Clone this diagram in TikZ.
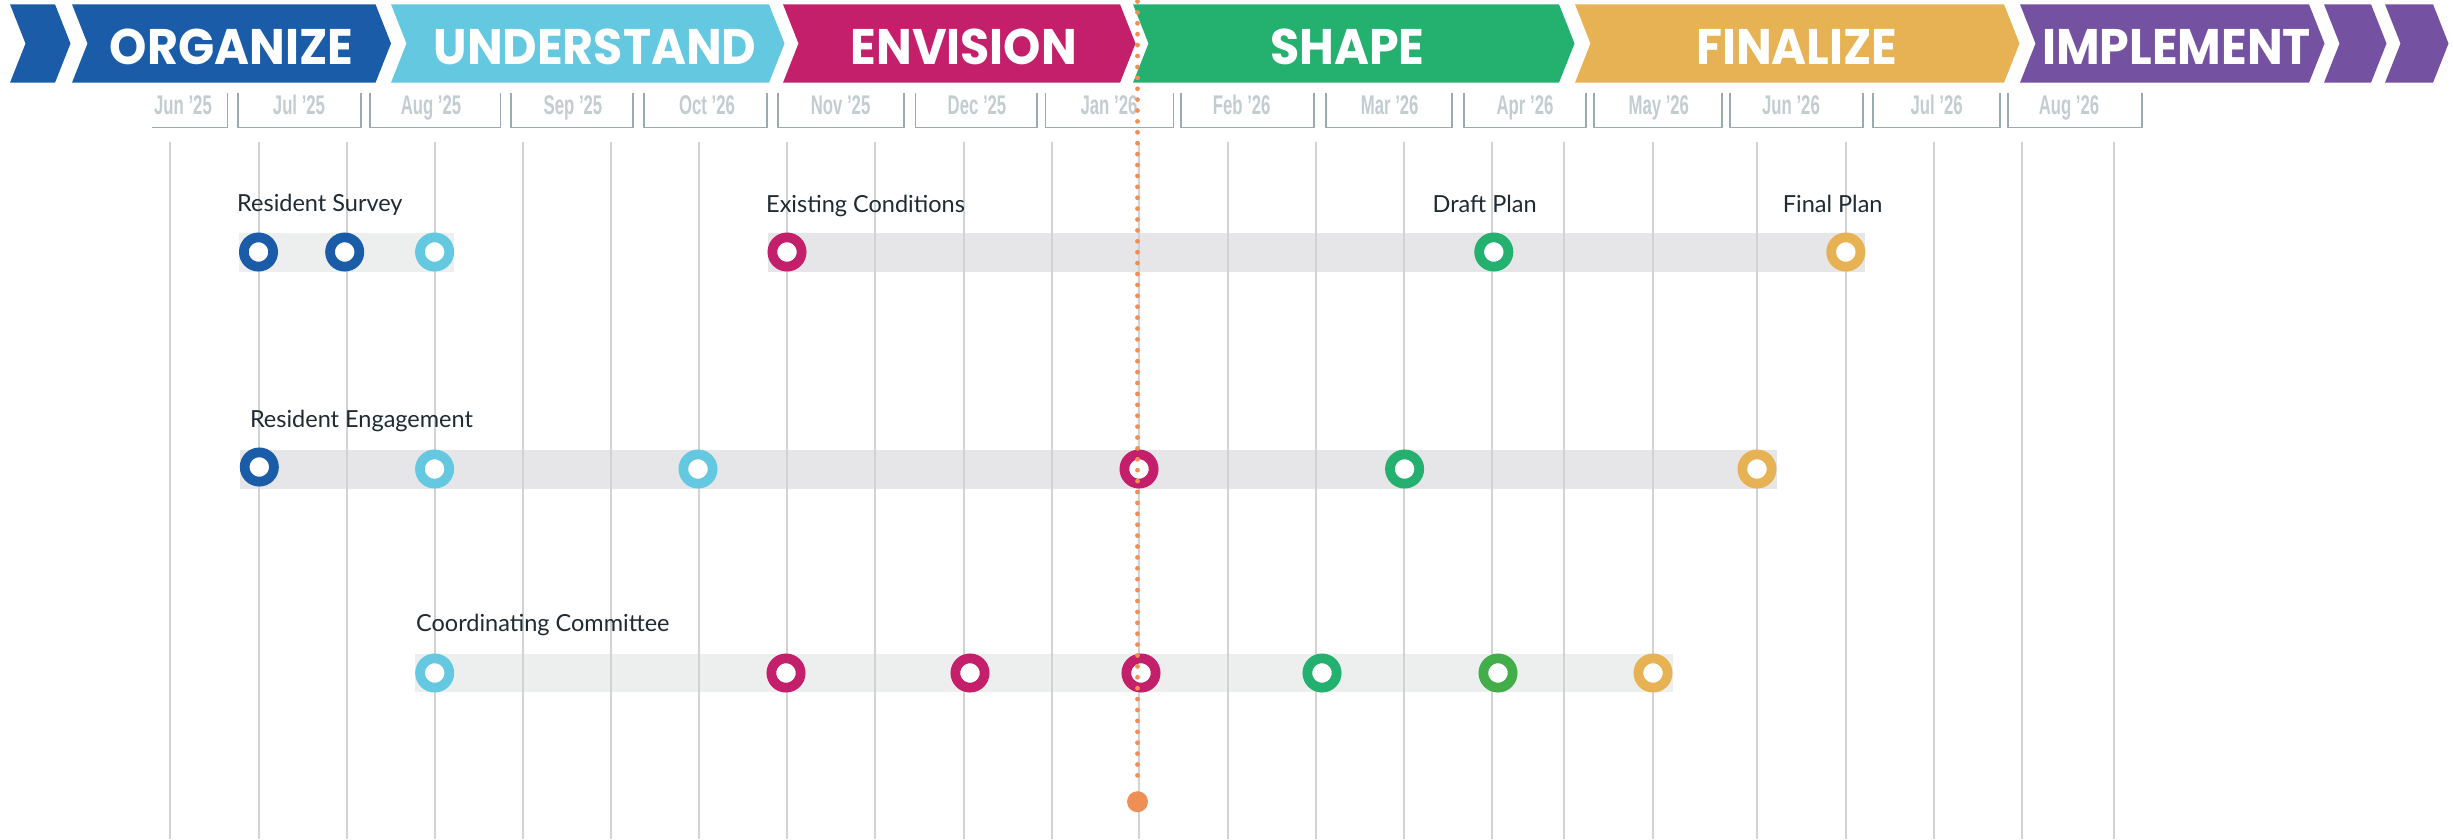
\documentclass[tikz,border=0pt]{standalone}
\usepackage{fontspec}
\setmainfont{Lato}
\newfontfamily\bannerfont{Poppins}[FakeStretch=0.95]
\newfontfamily\monthfont{Liberation Sans}[FakeStretch=0.62]
\usetikzlibrary{calc}
\definecolor{dblue}{HTML}{1A5CA8}
\definecolor{cyanc}{HTML}{64C8E0}
\definecolor{magc}{HTML}{C41F6B}
\definecolor{greenc}{HTML}{24B06E}
\definecolor{greenb}{HTML}{43AD4A}
\definecolor{yellowc}{HTML}{E7B254}
\definecolor{purplec}{HTML}{7552A1}
\definecolor{orangec}{HTML}{EF8F55}
\definecolor{barA}{HTML}{EDEFEE}
\definecolor{barB}{HTML}{E6E6E8}
\definecolor{gridc}{HTML}{D2D2D2}
\definecolor{labelc}{HTML}{1F2A32}
\definecolor{monthc}{HTML}{C3CDD0}
\definecolor{boxc}{HTML}{9AABB0}
\newcommand\bannerseg[3]{\fill[#1] (#2,4.3) -- (#3,4.3) -- (#3+15.5,43.5) -- (#3,82.7) -- (#2,82.7) -- (#2+15.5,43.5) -- cycle;}
\begin{document}
\begin{tikzpicture}[x=1pt,y=-1pt,
  ring/.style={circle, draw=#1, line width=9.75pt, fill=white, minimum size=29.25pt, inner sep=0pt, outer sep=4.875pt},
  bar/.style={draw=#1, line width=39pt},
  gridline/.style={draw=gridc, line width=1.6pt},
  boxline/.style={draw=boxc, line width=1.3pt},
  monthlabel/.style={anchor=base, text=monthc, font=\monthfont\bfseries\fontsize{27}{30}\selectfont, inner sep=0pt},
  bannerlabel/.style={anchor=base, text=white, font=\bannerfont\bfseries\fontsize{50}{56}\selectfont, inner sep=0pt},
  lbl/.style={anchor=base west, text=labelc, font=\fontsize{23.5}{27}\selectfont, inner sep=0pt},
  dotline/.style={draw=orangec, line width=4.8pt, line cap=round, dash pattern=on 0pt off 10.9pt},
  bigdot/.style={circle, fill=orangec, minimum size=21pt, inner sep=0pt}
]
\useasboundingbox (0,0) rectangle (2453,839);
\fill[white] (0,0) rectangle (2453,839);

% banner
\bannerseg{dblue}{10}{55}
\bannerseg{dblue}{72}{375.5}
\bannerseg{cyanc}{391}{769}
\bannerseg{magc}{783}{1120}
\bannerseg{greenc}{1133}{1559}
\bannerseg{yellowc}{1575}{2004}
\bannerseg{purplec}{2020}{2309}
\bannerseg{purplec}{2324}{2371}
\bannerseg{purplec}{2385}{2433}
\node[bannerlabel] (bOrg) at (231.4,64) {ORGANIZE};
\node[bannerlabel] (bUnd) at (595,64) {UNDERSTAND};
\node[bannerlabel] (bEnv) at (963.8,64) {ENVISION};
\node[bannerlabel] (bSha) at (1347.5,64) {SHAPE};
\node[bannerlabel] (bFin) at (1796.8,64) {FINALIZE};
\node[bannerlabel] (bImp) at (2176.6,64) {IMPLEMENT};

% month boxes
\draw[boxline] (152,127.5) -- (227.5,127.5) -- (227.5,93);
\node[monthlabel] (m1) at (183,114.3) {Jun ’25};
\foreach \L/\R/\c/\t/\n in {238/361/299/Jul ’25/m2, 370/500.5/431/Aug ’25/m3, 511/633/573/Sep ’25/m4, 644/767/707/Oct ’26/m5, 778/904/840.6/Nov ’25/m6, 915.4/1037/977/Dec ’25/m7, 1045.7/1173.3/1109/Jan ’26/m8, 1181/1314/1241.7/Feb ’26/m9, 1326/1452/1389.7/Mar ’26/m10, 1464/1586/1525/Apr ’26/m11, 1594/1722/1658.8/May ’26/m12, 1730/1863/1791/Jun ’26/m13, 1873/2000/1936.7/Jul ’26/m14, 2008/2142/2069/Aug ’26/m15}{
  \draw[boxline] (\L,93) -- (\L,127.5) -- (\R,127.5) -- (\R,93);
  \node[monthlabel] (\n) at (\c,114.3) {\t};
}

% bars
\coordinate (r1a) at (258.5,252);
\coordinate (r1c) at (434.6,252);
\coordinate (r1d) at (787,252);
\coordinate (r1f) at (1845.8,252);
\coordinate (r2a) at (259.3,469);
\coordinate (r2f) at (1757,469);
\coordinate (r3a) at (434.7,673);
\coordinate (r3g) at (1653,673);
\draw[bar=barA] ($(r1a)-(19.5,0)$) -- ($(r1c)+(19.5,0)$);
\draw[bar=barB] ($(r1d)-(19.5,0)$) -- ($(r1f)+(19.5,0)$);
\draw[bar=barB] ($(r2a)-(19.5,0)$) -- ($(r2f)+(19.5,0)$);
\draw[bar=barA, line width=38pt] ($(r3a)-(19.5,0)$) -- ($(r3g)+(19.5,0)$);

% grid
\foreach \x in {170,259,347,435,523,611,699,787,875,964,1052,1139,1228,1316,1404,1492,1564,1653,1757,1846,1934,2022,2114}{
  \draw[gridline] (\x,142) -- (\x,839);
}

% labels
\node[lbl] (lSurvey) at (237,211) {Resident Survey};
\node[lbl] (lExist) at (766,212.5) {Existing Conditions};
\node[lbl] (lDraft) at (1432.5,212.5) {Draft Plan};
\node[lbl] (lFinal) at (1782.7,212.5) {Final Plan};
\node[lbl] (lEngage) at (249.8,427) {Resident Engagement};
\node[lbl] (lCoord) at (416,631.7) {Coordinating Committee};

% row 1
\node[ring=dblue] (c11) at (r1a) {};
\node[ring=dblue] (c12) at (344.7,252) {};
\node[ring=cyanc] (c13) at (r1c) {};
\node[ring=magc] (c14) at (r1d) {};
\node[ring=greenc] (c15) at (1493.8,252) {};
\node[ring=yellowc] (c16) at (r1f) {};
% row 2
\node[ring=dblue] (c21) at (259.3,467) {};
\node[ring=cyanc] (c22) at (434.6,469) {};
\node[ring=cyanc] (c23) at (698,469) {};
\node[ring=magc] (c24) at (1139,469) {};
\node[ring=greenc] (c25) at (1404.6,469) {};
\node[ring=yellowc] (c26) at (r2f) {};
% row 3
\node[ring=cyanc] (c31) at (r3a) {};
\node[ring=magc] (c32) at (786,673) {};
\node[ring=magc] (c33) at (970,673) {};
\node[ring=magc] (c34) at (1141,673) {};
\node[ring=greenc] (c35) at (1322,673) {};
\node[ring=greenb] (c36) at (1498,673) {};
\node[ring=yellowc] (c37) at (r3g) {};

% today line
\coordinate (ptop) at (1137.5,1.5);
\node[bigdot] (now) at (1137.5,801.7) {};
\coordinate (pend) at (1137.5,784);
\draw[dotline] (ptop) -- (pend);
\end{tikzpicture}
\end{document}
